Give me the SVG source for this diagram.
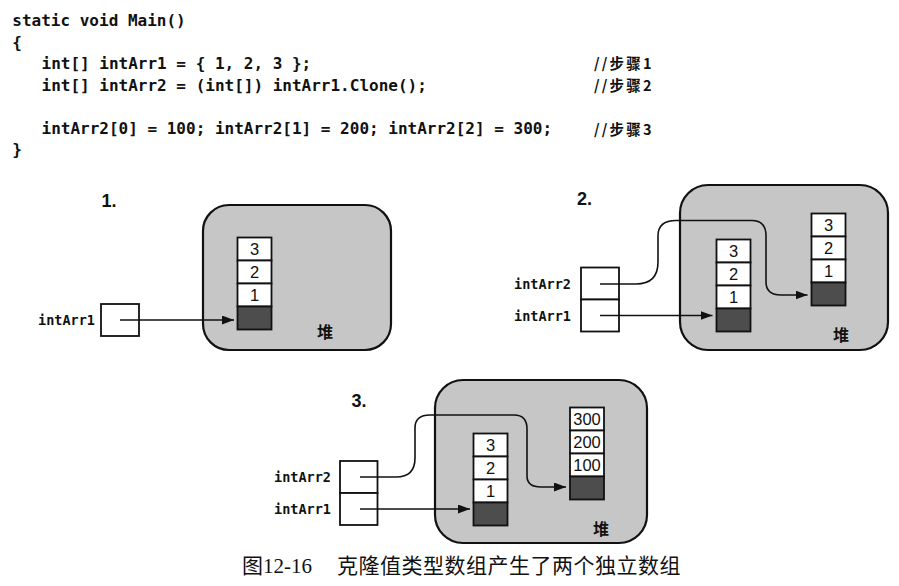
<svg xmlns="http://www.w3.org/2000/svg" width="899" height="586" viewBox="0 0 899 586">
<defs>
<style>
.code{font-family:"DejaVu Sans Mono","Liberation Mono",monospace;font-size:16px;font-weight:bold;fill:#111}
.cmt{font-family:"Noto Sans CJK SC",sans-serif;font-size:14.5px;font-weight:bold;fill:#111;letter-spacing:2.2px}
.heap{fill:#c6c6c6;stroke:#111;stroke-width:2.2}
.cell{fill:#fff;stroke:#111;stroke-width:1.8}
.dark{fill:#4d4d4d;stroke:#111;stroke-width:1.8}
.num{font-family:"Liberation Sans",Arial,sans-serif;font-size:16.5px;fill:#111;text-anchor:middle}
.var{font-family:"DejaVu Sans Mono","Liberation Mono",monospace;font-size:13.5px;font-weight:bold;fill:#111;text-anchor:end}
.box{fill:#fff;stroke:#111;stroke-width:1.8}
.step{font-family:"Liberation Sans",Arial,sans-serif;font-size:18px;font-weight:bold;fill:#111}
.dui{font-family:"Noto Sans CJK SC",sans-serif;font-size:16px;font-weight:bold;fill:#111;text-anchor:middle}
.conn{fill:none;stroke:#111;stroke-width:1.6}
.cap{font-family:"Liberation Serif","Noto Sans CJK SC",serif;font-size:21px;fill:#111}
</style>
<marker id="ah" markerWidth="12" markerHeight="9" refX="12" refY="4.5" orient="auto" markerUnits="userSpaceOnUse">
<path d="M0,0 L12,4.5 L0,9 z" fill="#111"/>
</marker>
</defs>
<rect width="899" height="586" fill="#fff"/>

<g id="code">
<text class="code" x="12.3" y="26">static void Main()</text>
<text class="code" x="12.3" y="47.5">{</text>
<text class="code" x="41.5" y="69">int[] intArr1 = { 1, 2, 3 };</text>
<text class="code" x="41.5" y="90.5">int[] intArr2 = (int[]) intArr1.Clone();</text>
<text class="code" x="41.5" y="133.5">intArr2[0] = 100; intArr2[1] = 200; intArr2[2] = 300;</text>
<text class="code" x="12.3" y="155">}</text>
<text class="cmt" x="594" y="69">//步骤1</text>
<text class="cmt" x="594" y="90.5">//步骤2</text>
<text class="cmt" x="594" y="134.5">//步骤3</text>
</g>

<!-- Diagram 1 -->
<g id="step1">
<text class="step" x="101.5" y="207">1.</text>
<rect class="heap" x="203" y="205" width="188" height="145" rx="26"/>
<text class="dui" x="325" y="338">堆</text>
</g>
<g id="d1-array">
<rect class="cell" x="237.5" y="237.5" width="34" height="23"/>
<rect class="cell" x="237.5" y="260.5" width="34" height="23"/>
<rect class="cell" x="237.5" y="283.5" width="34" height="23"/>
<rect class="dark" x="237.5" y="306.5" width="34" height="23"/>
<text class="num" x="254.5" y="255">3</text>
<text class="num" x="254.5" y="278">2</text>
<text class="num" x="254.5" y="301">1</text>
</g>
<g id="d1-intArr1">
<rect class="box" x="101" y="304" width="38" height="32"/>
<text class="var" x="95" y="324.5">intArr1</text>
</g>

<!-- Diagram 2 -->
<g id="step2">
<text class="step" x="577" y="205">2.</text>
<rect class="heap" x="680" y="185" width="208" height="165" rx="28"/>
<text class="dui" x="841" y="341">堆</text>
</g>
<g id="d2-array1">
<rect class="cell" x="716.5" y="239.5" width="34" height="23"/>
<rect class="cell" x="716.5" y="262.5" width="34" height="23"/>
<rect class="cell" x="716.5" y="285.5" width="34" height="23"/>
<rect class="dark" x="716.5" y="308.5" width="34" height="23"/>
<text class="num" x="733.5" y="257">3</text>
<text class="num" x="733.5" y="280">2</text>
<text class="num" x="733.5" y="303">1</text>
</g>
<g id="d2-array2">
<rect class="cell" x="811.5" y="213.5" width="34" height="23"/>
<rect class="cell" x="811.5" y="236.5" width="34" height="23"/>
<rect class="cell" x="811.5" y="259.5" width="34" height="23"/>
<rect class="dark" x="811.5" y="282.5" width="34" height="23"/>
<text class="num" x="828.5" y="231">3</text>
<text class="num" x="828.5" y="254">2</text>
<text class="num" x="828.5" y="277">1</text>
</g>
<g id="d2-vars">
<rect class="box" x="581" y="267.5" width="38" height="32"/>
<rect class="box" x="581" y="299.5" width="38" height="32"/>
<text class="var" x="571" y="288.5">intArr2</text>
<text class="var" x="571" y="320.5">intArr1</text>
</g>

<!-- Diagram 3 -->
<g id="step3">
<text class="step" x="351.5" y="406.5">3.</text>
<rect class="heap" x="435" y="380" width="212" height="163" rx="28"/>
<text class="dui" x="601" y="535">堆</text>
</g>
<g id="d3-array1">
<rect class="cell" x="473.5" y="433.5" width="34" height="23"/>
<rect class="cell" x="473.5" y="456.5" width="34" height="23"/>
<rect class="cell" x="473.5" y="479.5" width="34" height="23"/>
<rect class="dark" x="473.5" y="502.5" width="34" height="23"/>
<text class="num" x="490.5" y="451">3</text>
<text class="num" x="490.5" y="474">2</text>
<text class="num" x="490.5" y="497">1</text>
</g>
<g id="d3-array2">
<rect class="cell" x="570" y="407.5" width="34" height="23"/>
<rect class="cell" x="570" y="430.5" width="34" height="23"/>
<rect class="cell" x="570" y="453.5" width="34" height="23"/>
<rect class="dark" x="570" y="476.5" width="34" height="23"/>
<text class="num" x="587" y="425">300</text>
<text class="num" x="587" y="448">200</text>
<text class="num" x="587" y="471">100</text>
</g>
<g id="d3-vars">
<rect class="box" x="340" y="461" width="37.5" height="32"/>
<rect class="box" x="340" y="493" width="37.5" height="32"/>
<text class="var" x="331" y="482">intArr2</text>
<text class="var" x="331" y="514">intArr1</text>
</g>

<g id="connectors">
<path class="conn" marker-end="url(#ah)" d="M120,320 H234"/>
<path class="conn" marker-end="url(#ah)" d="M600,315.5 H712.5"/>
<path class="conn" marker-end="url(#ah)" d="M600,284 H636 C652,284 658,276 658,262 V236 C658,226 664,220.5 676,220.5 H752 C762,220.5 766,226 766,236 V282 C766,291 771,295 781,295 H807.5"/>
<path class="conn" marker-end="url(#ah)" d="M360,509 H470"/>
<path class="conn" marker-end="url(#ah)" d="M360,477 H396 C410,477 415,470 415,458 V428 C415,419 420,415 430,415 H514 C523,415 527,420 527,429 V476 C527,483 532,487 541,487 H566"/>
</g>

<g id="caption">
<text class="cap" x="242" y="573">图12-16</text>
<text class="cap" x="337" y="573" letter-spacing="0.5">克隆值类型数组产生了两个独立数组</text>
</g>
</svg>
